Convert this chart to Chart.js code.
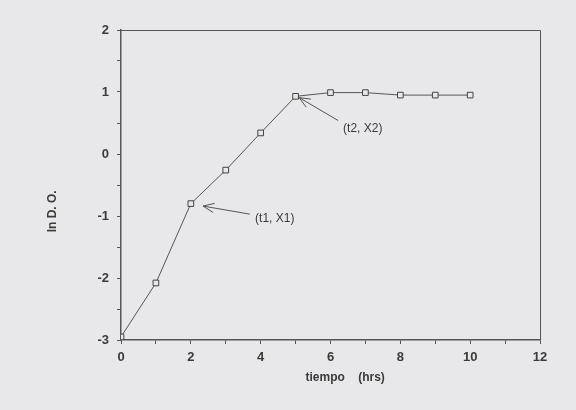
<!DOCTYPE html>
<html>
<head>
<meta charset="utf-8">
<script src="https://cdn.jsdelivr.net/npm/chart.js@4"></script>
<style>
  html, body { margin: 0; padding: 0; background: #e8e8ea; }
  #wrap { width: 576px; height: 410px; }
</style>
</head>
<body>
<div id="wrap"><canvas id="c" width="576" height="410"></canvas></div>
<script>
const tiempo = [0, 1, 2, 3, 4, 5, 6, 7, 8, 9, 10];
const lnDO   = [-2.95, -2.08, -0.8, -0.26, 0.34, 0.93, 0.99, 0.99, 0.95, 0.95, 0.95];

const xTitle = 'tiempo    (hrs)';
const yTitle = 'ln D. O.';

// annotations: [text, textX, textY, tailX, tailY, headX, headY] in data units
const notes = [
  ['(t1, X1)', 3.84, -1.04, 3.69, -0.97, 2.35, -0.84],
  ['(t2, X2)', 6.36, 0.41, 6.22, 0.54, 5.10, 0.91]
];

const ink = '#3a3a3a';
const font = "'Liberation Sans', Arial, sans-serif";

const frame = {
  id: 'frame',
  afterDraw(chart) {
    const { ctx, chartArea: a, scales: { x, y } } = chart;
    ctx.save();
    ctx.strokeStyle = '#555';
    ctx.lineWidth = 1;
    ctx.beginPath();
    ctx.moveTo(a.left, a.top + 0.5); ctx.lineTo(a.right + 0.5, a.top + 0.5); ctx.lineTo(a.right + 0.5, a.bottom);
    ctx.stroke();

    // axis titles
    ctx.fillStyle = ink;
    ctx.font = 'bold 12px ' + font;
    ctx.textAlign = 'center';
    ctx.textBaseline = 'middle';
    ctx.fillText(xTitle, a.left + (a.right - a.left) * 0.535, a.bottom + 38);
    ctx.translate(a.left - 68, a.top + (a.bottom - a.top) * 0.585);
    ctx.rotate(-Math.PI / 2);
    ctx.fillText(yTitle, 0, 0);
    ctx.setTransform(1, 0, 0, 1, 0, 0);

    ctx.font = '12px ' + font;
    ctx.textAlign = 'left';
    notes.forEach(([t, tx, ty, x0, y0, x1, y1]) => {
      ctx.fillText(t, x.getPixelForValue(tx), y.getPixelForValue(ty));
      const px0 = x.getPixelForValue(x0), py0 = y.getPixelForValue(y0);
      const px1 = x.getPixelForValue(x1), py1 = y.getPixelForValue(y1);
      const ang = Math.atan2(py0 - py1, px0 - px1);
      ctx.beginPath();
      ctx.moveTo(px0, py0); ctx.lineTo(px1, py1);
      ctx.moveTo(px1 + 12 * Math.cos(ang + 0.4), py1 + 12 * Math.sin(ang + 0.4));
      ctx.lineTo(px1, py1);
      ctx.lineTo(px1 + 12 * Math.cos(ang - 0.4), py1 + 12 * Math.sin(ang - 0.4));
      ctx.stroke();
    });
    ctx.restore();
  }
};

new Chart(document.getElementById('c'), {
  type: 'line',
  data: {
    datasets: [{
      data: tiempo.map((t, i) => ({ x: t, y: lnDO[i] })),
      borderColor: '#555',
      borderWidth: 1,
      pointStyle: 'rect',
      pointRadius: 4,
      pointBackgroundColor: '#e8e8ea',
      pointBorderColor: '#444',
      pointBorderWidth: 1,
      tension: 0
    }]
  },
  options: {
    responsive: false,
    animation: false,
    layout: { padding: { left: 0, right: 36, top: 30, bottom: 0 } },
    plugins: { legend: { display: false }, tooltip: { enabled: false } },
    scales: {
      x: {
        type: 'linear', min: 0, max: 12,
        ticks: { stepSize: 1, autoSkip: false, maxRotation: 0, color: ink, padding: 6,
                 font: { family: font, size: 13, weight: 'bold' },
                 callback: v => v % 2 === 0 ? v : '' },
        grid: { drawOnChartArea: false, tickLength: 4, color: '#555' },
        border: { color: '#555', width: 1.5 },
        afterFit(s) { s.height = 70; }
      },
      y: {
        min: -3, max: 2,
        ticks: { stepSize: 0.5, autoSkip: false, color: ink, padding: 8,
                 font: { family: font, size: 13, weight: 'bold' },
                 callback: v => Number.isInteger(v) ? v : '' },
        grid: { drawOnChartArea: false, tickLength: 4, color: '#555' },
        border: { color: '#555', width: 1.5 },
        afterFit(s) { s.width = 121; }
      }
    }
  },
  plugins: [frame]
});
</script>
</body>
</html>
